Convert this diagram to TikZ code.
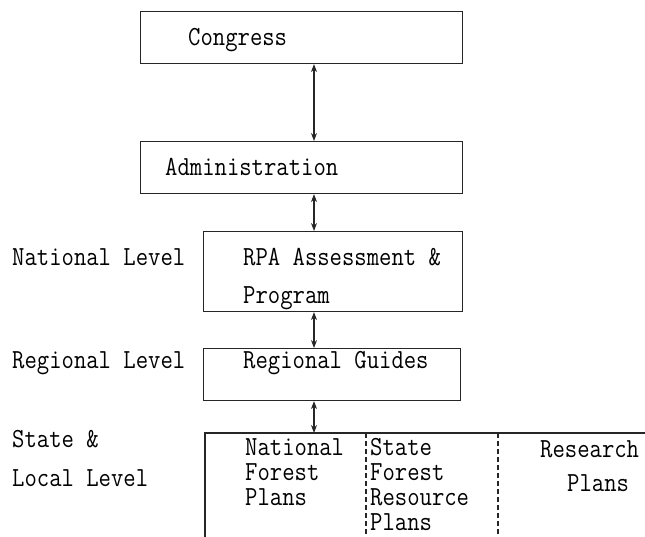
\documentclass[tikz,border=0pt]{standalone}
\usepackage{graphicx}
\usetikzlibrary{arrows.meta}
\newcommand\tw[1]{\scalebox{1}[1.15]{#1}}
\newcommand\lbfont{\fontsize{24}{25}\selectfont\ttfamily\lineskiplimit=-40pt\relax\lineskip=0pt\relax}
\tikzset{
  box/.style={draw=black!85, line width=1.1pt, inner sep=0pt, anchor=north west},
  lbl/.style={anchor=base west, inner sep=0pt, align=left, font=\lbfont},
  link/.style={draw=black!85, line width=1.1pt,
    {Stealth[length=8pt,width=6pt]}-{Stealth[length=8pt,width=6pt]}},
  sep/.style={draw=black!85, line width=1.1pt, dash pattern=on 5pt off 3pt},
}
\begin{document}
\begin{tikzpicture}[x=1pt,y=-1pt]
\useasboundingbox (0,0) rectangle (645,537);
% boxes
\node[box, minimum width=322pt, minimum height=52pt] (congress) at (140,11) {};
\node[box, minimum width=322pt, minimum height=52pt] (admin) at (140,141) {};
\node[box, minimum width=259pt, minimum height=80pt] (rpa) at (203,231) {};
\node[box, minimum width=257pt, minimum height=52pt] (regional) at (203,348) {};
% bottom open box
\coordinate (btl) at (205,433);
\coordinate (btr) at (646,433);
\coordinate (bbl) at (205,538);
\draw[draw=black!85, line width=1.1pt] (btr) -- (btl) -- (bbl);
\coordinate (d1t) at (366,433);
\coordinate (d1b) at (366,537);
\coordinate (d2t) at (498,433);
\coordinate (d2b) at (498,537);
\draw[sep] (d1t) -- (d1b);
\draw[sep] (d2t) -- (d2b);
% arrows
\coordinate (ax) at (314,0);
\draw[link] (congress.south -| ax) -- (admin.north -| ax);
\draw[link] (admin.south -| ax) -- (rpa.north -| ax);
\draw[link] (rpa.south -| ax) -- (regional.north -| ax);
\draw[link] (regional.south -| ax) -- (btl -| ax);
% texts (base = baseline of the last line)
\node[lbl] (tcong) at (188,46) {\tw{Congress}};
\node[lbl] (tadmin) at (165,176) {\tw{Administration}};
\node[lbl] (trpa) at (243,304) {\tw{RPA Assessment \&}\\[14pt]\tw{Program}};
\node[lbl] (treg) at (243,368) {\tw{Regional Guides}};
\node[lbl] (lnat) at (12,266) {\tw{National Level}};
\node[lbl] (lreg) at (12,368) {\tw{Regional Level}};
\node[lbl] (lstate) at (12,486) {\tw{State \&}\\[14pt]\tw{Local Level}};
\node[lbl] (tnfp) at (245,505) {\tw{National}\\\tw{Forest}\\\tw{Plans}};
\node[lbl] (tsfrp) at (370,530) {\tw{State}\\\tw{Forest}\\\tw{Resource}\\\tw{Plans}};
\node[lbl] (tres) at (540,457) {\tw{Research}};
\node[lbl] (tresp) at (567,491) {\tw{Plans}};
\end{tikzpicture}
\end{document}
